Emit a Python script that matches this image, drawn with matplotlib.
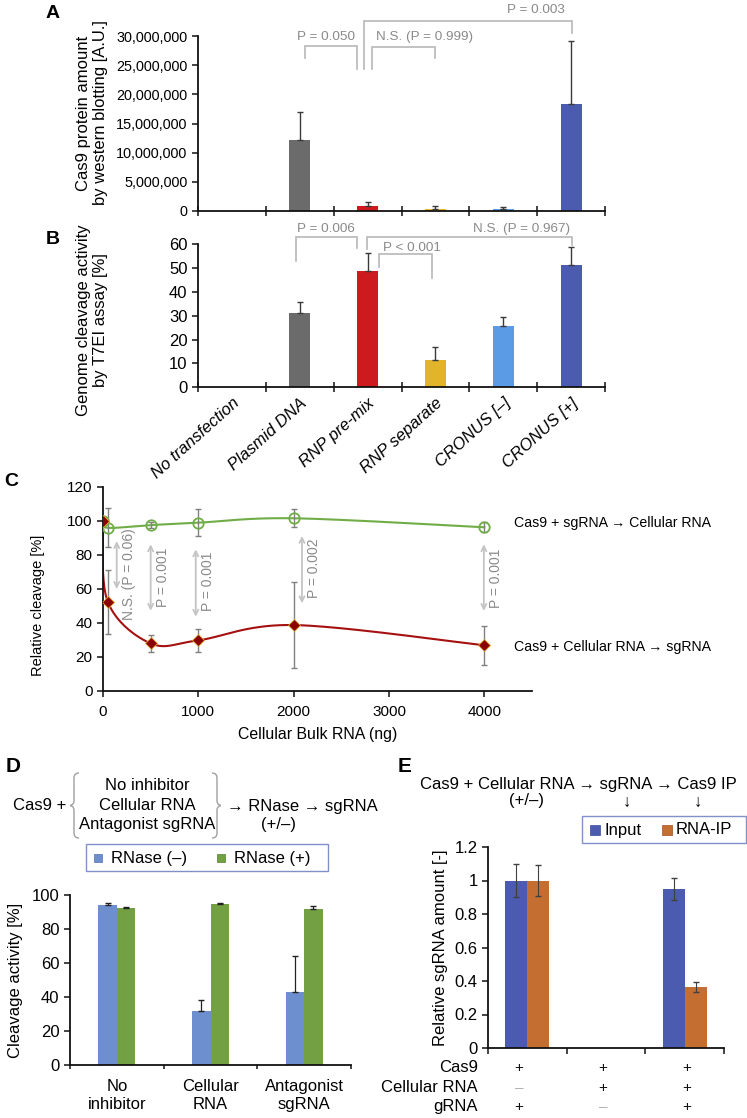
import numpy as np
import matplotlib
matplotlib.use('Agg')
import matplotlib.pyplot as plt
from matplotlib.patches import Rectangle, PathPatch
from matplotlib.path import Path

plt.rcParams['font.family'] = ['Liberation Sans', 'DejaVu Sans']

# ---------------- data ----------------
ab_categories = ['No transfection', 'Plasmid DNA', 'RNP pre-mix', 'RNP separate', 'CRONUS [–]', 'CRONUS [+]']
ab_colors = ['#808080', '#6b6b6b', '#cc1a1f', '#e2b42a', '#5b9be6', '#4a5bb0']
a_values = [0, 12.2e6, 0.86e6, 0.34e6, 0.30e6, 18.4e6]
a_errors = [0, 4.7e6, 0.74e6, 0.52e6, 0.45e6, 10.8e6]
b_values = [0, 31.0, 49.0, 11.5, 25.9, 51.5]
b_errors = [0, 4.7, 7.2, 5.3, 3.6, 7.5]
a_ticks = [0, 5e6, 10e6, 15e6, 20e6, 25e6, 30e6]
b_ticks = [0, 10, 20, 30, 40, 50, 60]

c_rna_ng = [0, 50, 500, 1000, 2000, 4000]
c_sg_first = [100, 96.0, 97.6, 99.0, 101.6, 96.3]
c_sg_first_err = [0, 11.5, 2.0, 7.8, 5.4, 3.0]
c_rna_first = [100, 52.5, 28.0, 29.8, 38.8, 26.9]
c_rna_first_err = [0, 18.8, 4.9, 6.8, 25.3, 11.6]
c_pvalues = ['N.S. (P = 0.06)', 'P = 0.001', 'P = 0.001', 'P = 0.002', 'P = 0.001']
c_xticks = [0, 1000, 2000, 3000, 4000]
c_yticks = [0, 20, 40, 60, 80, 100, 120]

d_groups = ['No\ninhibitor', 'Cellular\nRNA', 'Antagonist\nsgRNA']
d_rnase_minus = [94.2, 31.8, 43.1]
d_rnase_minus_err = [1.2, 6.4, 21.0]
d_rnase_plus = [92.2, 94.6, 91.8]
d_rnase_plus_err = [1.0, 0.5, 1.9]
d_yticks = [0, 20, 40, 60, 80, 100]

e_input = [1.0, 0.0, 0.948]
e_input_err = [0.10, 0.0, 0.065]
e_rnaip = [1.0, 0.0, 0.363]
e_rnaip_err = [0.095, 0.0, 0.03]
e_yticks = [0, 0.2, 0.4, 0.6, 0.8, 1.0, 1.2]
e_row_labels = ['Cas9', 'Cellular RNA', 'gRNA']
e_cas9 = ['+', '+', '+']
e_cellular = ['–', '+', '+']
e_grna = ['+', '–', '+']

# ---------------- figure ----------------
W, H = 747, 1118
fig = plt.figure(figsize=(W / 100, H / 100), dpi=100)


def add_ax(l, t, r, b):
    return fig.add_axes([l / W, 1 - b / H, (r - l) / W, (b - t) / H])


def style(ax, fs):
    ax.patch.set_visible(False)
    for s in ['top', 'right']:
        ax.spines[s].set_visible(False)
    for s in ['left', 'bottom']:
        ax.spines[s].set_linewidth(1.3)
        ax.spines[s].set_color('#111111')
    ax.tick_params(labelsize=fs, width=1.1, length=4, color='#111111')


ov = fig.add_axes([0, 0, 1, 1])
ov.set_xlim(0, W)
ov.set_ylim(H, 0)
ov.axis('off')
ov.set_zorder(10)

GRAY_LINE = '#b8b8b8'
GRAY_TEXT = '#8a8a8a'


def bracket(ax, xl, xr, yh, ybl, ybr, label, tx, ty, fs=9.7):
    ax.plot([xl, xl, xr, xr], [ybl, yh, yh, ybr], color=GRAY_LINE, lw=1.2,
            clip_on=False, solid_joinstyle='miter')
    ax.text(tx, ty, label, color=GRAY_TEXT, fontsize=fs, ha='center', va='center',
            clip_on=False)


def bar_panel(ax, values, errors, ticks):
    xs = np.arange(len(values))
    ax.bar(xs, values, width=0.31, color=ab_colors, zorder=2)
    idx = [i for i in xs if errors[i] > 0]
    ax.errorbar([xs[i] for i in idx], [values[i] for i in idx],
                yerr=[np.zeros(len(idx)), [errors[i] for i in idx]],
                fmt='none', ecolor='#3a3a3a', elinewidth=1, capsize=2, capthick=1, zorder=3)
    ax.set_xlim(-0.5, len(values) - 0.5)
    ax.set_xticks(np.arange(-0.5, len(values), 1))
    ax.set_xticklabels([])
    ax.tick_params(axis='x', direction='inout', length=7)
    ax.set_yticks(ticks)
    ax.set_ylim(ticks[0], ticks[-1])


# ---------------- panel A ----------------
axA = add_ax(198, 36, 605, 211)
style(axA, 10.4)
bar_panel(axA, a_values, a_errors, a_ticks)
axA.set_yticklabels([f'{int(v):,}' for v in a_ticks])
fig.text(92 / W, 1 - 113 / H, 'Cas9 protein amount\nby western blotting [A.U.]', rotation=90,
         ha='center', va='center', fontsize=12, linespacing=1.15)
ov.text(53, 13, 'A', fontsize=14, fontweight='bold', ha='center', va='center')
bracket(axA, 1.08, 1.85, 28.3e6, 26.3e6, 24.3e6, 'P = 0.050', 1.39, 29.9e6)
bracket(axA, 2.06, 3.0, 28.2e6, 24.3e6, 26.3e6, 'N.S. (P = 0.999)', 2.84, 29.9e6)
bracket(axA, 1.95, 5.01, 32.5e6, 24.3e6, 30.5e6, 'P = 0.003', 4.48, 34.5e6)

# ---------------- panel B ----------------
axB = add_ax(198, 244.3, 605, 387.3)
style(axB, 12)
bar_panel(axB, b_values, b_errors, b_ticks)
axB.set_xticks(np.arange(len(ab_categories)), minor=True)
axB.set_xticklabels(ab_categories, minor=True, rotation=42, ha='right',
                    rotation_mode='anchor', fontstyle='italic', fontsize=12)
axB.tick_params(axis='x', which='minor', length=0, pad=6)
fig.text(92 / W, 1 - 320 / H, 'Genome cleavage activity\nby T7EI assay [%]', rotation=90,
         ha='center', va='center', fontsize=12, linespacing=1.15)
ov.text(53, 240, 'B', fontsize=14, fontweight='bold', ha='center', va='center')
bracket(axB, 0.945, 1.85, 62.9, 53.1, 58.3, 'P = 0.006', 1.39, 66.4)
bracket(axB, 1.99, 5.01, 62.9, 57.9, 59.7, 'N.S. (P = 0.967)', 4.27, 66.4)
bracket(axB, 2.17, 2.95, 55.8, 50.6, 45.7, 'P < 0.001', 2.65, 58.3)

# ---------------- panel C ----------------
axC = add_ax(103, 487, 532, 691)
style(axC, 11)
axC.set_xlim(0, 4500)
axC.set_ylim(0, 120)
axC.set_xticks(c_xticks)
axC.set_yticks(c_yticks)
axC.tick_params(axis='x', pad=6)
axC.set_xlabel('Cellular Bulk RNA (ng)', fontsize=11.4, labelpad=6)
axC.set_ylabel('Relative cleavage [%]', fontsize=10.5)
axC.yaxis.set_label_coords(-0.135, 0.42)
ov.text(11, 481, 'C', fontsize=14, fontweight='bold', ha='center', va='center')


def excel_smooth(ax, x, y, n=40):
    pts = ax.transData.transform(np.column_stack([x, y]))
    P = np.vstack([pts[0], pts, pts[-1]])
    out = []
    for i in range(1, len(P) - 2):
        p0, p1, p2, p3 = P[i - 1], P[i], P[i + 1], P[i + 2]
        c1 = p1 + (p2 - p0) / 6
        c2 = p2 - (p3 - p1) / 6
        t = np.linspace(0, 1, n)[:, None]
        seg = (1 - t) ** 3 * p1 + 3 * (1 - t) ** 2 * t * c1 + 3 * (1 - t) * t ** 2 * c2 + t ** 3 * p2
        out.append(seg if i == 1 else seg[1:])
    out = np.vstack(out)
    return ax.transData.inverted().transform(out)


GREEN = '#70ad47'
RED_LINE = '#a51010'
sg = excel_smooth(axC, c_rna_ng, c_sg_first)
axC.plot(sg[:, 0], sg[:, 1], color=GREEN, lw=1.5, zorder=2)
rn = excel_smooth(axC, c_rna_ng, c_rna_first)
axC.plot(rn[:, 0], rn[:, 1], color=RED_LINE, lw=1.5, zorder=2)
axC.errorbar(c_rna_ng[1:], c_sg_first[1:], yerr=c_sg_first_err[1:], fmt='none',
             ecolor='#808080', elinewidth=1, capsize=2.5, zorder=3)
axC.errorbar(c_rna_ng[1:], c_rna_first[1:], yerr=c_rna_first_err[1:], fmt='none',
             ecolor='#808080', elinewidth=1, capsize=2.5, zorder=3)
axC.plot(c_rna_ng, c_sg_first, ls='none', marker='o', ms=7.5, mfc='none', mec=GREEN,
         mew=1.3, zorder=4)
axC.plot(c_rna_ng, c_rna_first, ls='none', marker='D', ms=6, mfc='#8b0000', mec='#e0a830',
         mew=0.6, zorder=5)

arrow_x = [144, 500, 973, 2087, 3995]
arrow_top = [88.2, 86.3, 83.3, 91.2, 86.3]
arrow_bot = [60.0, 47.2, 43.7, 51.6, 47.1]
text_y = [68.8, 66.9, 64.3, 72.2, 66.3]
for ax_, at, ab, ty, lab in zip(arrow_x, arrow_top, arrow_bot, text_y, c_pvalues):
    axC.annotate('', xy=(ax_, at), xytext=(ax_, ab),
                 arrowprops=dict(arrowstyle='<->', color='#c4c4c4', lw=1.3,
                                 shrinkA=0, shrinkB=0, mutation_scale=9))
    axC.text(ax_ + 125, ty, lab, rotation=90, color=GRAY_TEXT, fontsize=10,
             ha='center', va='center')

ov.text(514, 523, 'Cas9 + sgRNA → Cellular RNA', fontsize=10.2, ha='left', va='center')
ov.text(514, 647, 'Cas9 + Cellular RNA → sgRNA', fontsize=10.2, ha='left', va='center')

# ---------------- panel D ----------------
D_BLUE = '#6d8ecf'
D_GREEN = '#72a043'
axD = add_ax(70, 895, 351, 1065)
style(axD, 12)
xd = np.arange(len(d_groups))
bw = 0.197
axD.bar(xd - bw / 2, d_rnase_minus, width=bw, color=D_BLUE, zorder=2)
axD.bar(xd + bw / 2, d_rnase_plus, width=bw, color=D_GREEN, zorder=2)
axD.errorbar(xd - bw / 2, d_rnase_minus, yerr=[np.zeros(3), d_rnase_minus_err], fmt='none',
             ecolor='#222222', elinewidth=0.9, capsize=2, zorder=3)
axD.errorbar(xd + bw / 2, d_rnase_plus, yerr=[np.zeros(3), d_rnase_plus_err], fmt='none',
             ecolor='#222222', elinewidth=0.9, capsize=2, zorder=3)
axD.set_xlim(-0.5, 2.5)
axD.set_ylim(0, 100)
axD.set_yticks(d_yticks)
axD.set_xticks(np.arange(-0.5, 3, 1))
axD.set_xticklabels([])
axD.tick_params(axis='x', length=3)
axD.set_xticks(xd, minor=True)
axD.set_xticklabels(d_groups, minor=True, fontsize=12, linespacing=1.3)
axD.tick_params(axis='x', which='minor', length=0, pad=10)
axD.set_ylabel('Cleavage activity [%]', fontsize=12, labelpad=6)
ov.text(13, 767, 'D', fontsize=15, fontweight='bold', ha='center', va='center')

FS_H = 12
ov.text(13, 806, 'Cas9 +', fontsize=FS_H, ha='left', va='center')
for yy, tt in zip([786, 806, 825], ['No inhibitor', 'Cellular RNA', 'Antagonist sgRNA']):
    ov.text(147, yy, tt, fontsize=FS_H, ha='center', va='center')
ov.text(227, 806, '→ RNase → sgRNA', fontsize=FS_H, ha='left', va='center')
ov.text(278, 825, '(+/–)', fontsize=FS_H, ha='center', va='center')


def brace(x, top, bot, direction, depth=4, r=5, color='#a0a0a0'):
    d = direction
    mid = (top + bot) / 2
    verts = [(x - d * r, top), (x, top), (x, top + r),
             (x, mid - r),
             (x, mid), (x + d * depth, mid), (x + d * depth, mid),
             (x + d * depth, mid), (x, mid), (x, mid + r),
             (x, bot - r),
             (x, bot), (x - d * r, bot)]
    codes = [Path.MOVETO, Path.CURVE3, Path.CURVE3,
             Path.LINETO,
             Path.CURVE4, Path.CURVE4, Path.CURVE4,
             Path.CURVE4, Path.CURVE4, Path.CURVE4,
             Path.LINETO,
             Path.CURVE3, Path.CURVE3]
    ov.add_patch(PathPatch(Path(verts, codes), fill=False, ec=color, lw=1.0))


brace(74, 773, 838, -1)
brace(217, 773, 838, +1)

ov.add_patch(Rectangle((86, 844), 242, 27, fill=False, ec='#8090c8', lw=1.0))
ov.add_patch(Rectangle((94, 853.5), 8, 8, fc=D_BLUE, ec='#5070b0', lw=0.5))
ov.text(111, 858, 'RNase (–)', fontsize=12, ha='left', va='center')
ov.add_patch(Rectangle((217, 853.5), 8, 8, fc=D_GREEN, ec='#508030', lw=0.5))
ov.text(234, 858, 'RNase (+)', fontsize=12, ha='left', va='center')

# ---------------- panel E ----------------
E_BLUE = '#4a5bb0'
E_ORANGE = '#c56e31'
axE = add_ax(488, 847, 724, 1048)
style(axE, 12)
xe = np.arange(3)
bwe = 0.28
axE.bar(xe - bwe / 2, e_input, width=bwe, color=E_BLUE, zorder=2)
axE.bar(xe + bwe / 2, e_rnaip, width=bwe, color=E_ORANGE, zorder=2)
ie = [i for i in xe if e_input_err[i] > 0]
axE.errorbar([xe[i] - bwe / 2 for i in ie], [e_input[i] for i in ie],
             yerr=[e_input_err[i] for i in ie], fmt='none', ecolor='#404040',
             elinewidth=0.8, capsize=2.5, zorder=3)
ir = [i for i in xe if e_rnaip_err[i] > 0]
axE.errorbar([xe[i] + bwe / 2 for i in ir], [e_rnaip[i] for i in ir],
             yerr=[e_rnaip_err[i] for i in ir], fmt='none', ecolor='#404040',
             elinewidth=0.8, capsize=2.5, zorder=3)
axE.set_xlim(-0.5, 2.5)
axE.set_ylim(0, 1.2)
axE.set_yticks(e_yticks)
axE.set_yticklabels([f'{v:g}' for v in e_yticks])
axE.set_xticks(np.arange(-0.5, 3, 1))
axE.set_xticklabels([])
axE.tick_params(axis='x', length=4)
axE.set_ylabel('Relative sgRNA amount [-]', fontsize=12, labelpad=5)
ov.text(405, 767, 'E', fontsize=15, fontweight='bold', ha='center', va='center')

ov.text(420, 784, 'Cas9 + Cellular RNA → sgRNA → Cas9 IP', fontsize=FS_H, ha='left', va='center')
ov.text(527, 801, '(+/–)', fontsize=FS_H, ha='center', va='center')
ov.text(627, 802, '↓', fontsize=FS_H, ha='center', va='center')
ov.text(698, 802, '↓', fontsize=FS_H, ha='center', va='center')

ov.add_patch(Rectangle((582, 816), 164, 27, fill=False, ec='#8090c8', lw=1.0))
ov.add_patch(Rectangle((590, 825), 10, 10, fc=E_BLUE, ec='#3a4a98', lw=0.5))
ov.text(604, 830, 'Input', fontsize=12, ha='left', va='center')
ov.add_patch(Rectangle((662, 825), 10, 10, fc=E_ORANGE, ec='#a05020', lw=0.5))
ov.text(676, 830, 'RNA-IP', fontsize=12, ha='left', va='center')

row_y = [1068, 1088, 1107]
col_x = [519, 603, 687]
for yy, lab, row in zip(row_y, e_row_labels, [e_cas9, e_cellular, e_grna]):
    ov.text(478, yy, lab, fontsize=12, ha='right', va='center')
    for xx, s in zip(col_x, row):
        ov.text(xx, yy, s, fontsize=11, ha='center', va='center',
                color='#111111' if s == '+' else '#b0b0b0')

fig.savefig('out.png', dpi=100, facecolor='white')
